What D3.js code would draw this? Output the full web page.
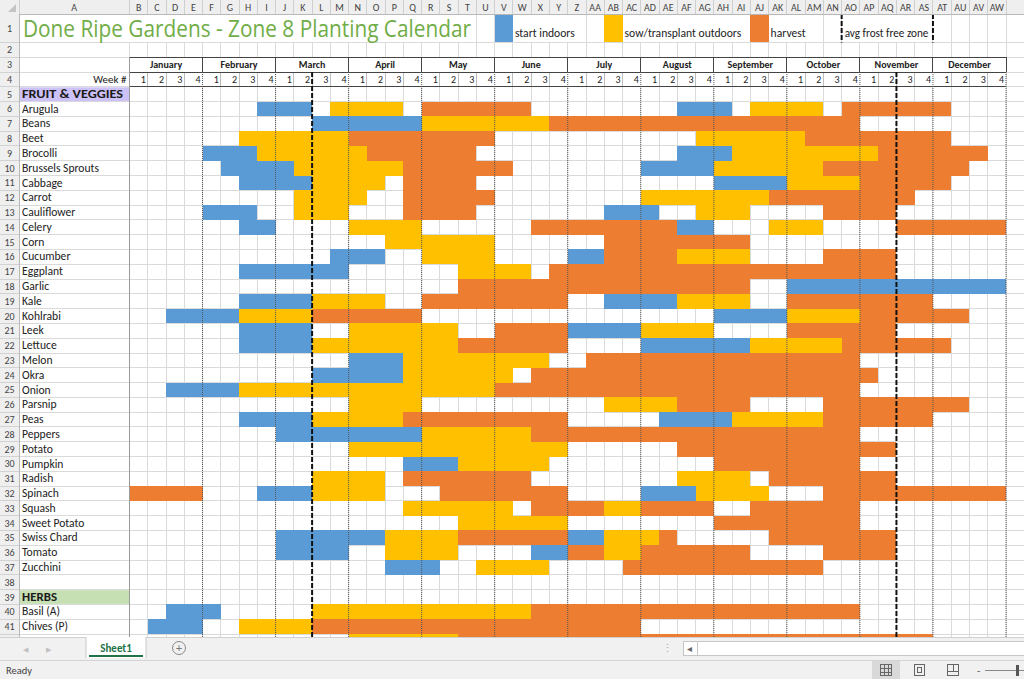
<!DOCTYPE html>
<html><head><meta charset="utf-8">
<script src="https://cdn.jsdelivr.net/npm/d3@7"></script>
<style>
html,body{margin:0;padding:0;background:#fff;overflow:hidden}
svg{display:block}
text{font-family:Carlito, Lato, "Open Sans", sans-serif}
</style></head><body>
<svg id="c" width="1024" height="679"></svg>
<script>
// ---------------- DATA ----------------
const title = "Done Ripe Gardens - Zone 8 Planting Calendar";
const months = ["January","February","March","April","May","June","July","August","September","October","November","December"];
const weekLabels = ["1","2","3","4"];
const colLetters = ["A","B","C","D","E","F","G","H","I","J","K","L","M","N","O","P","Q","R","S","T","U","V","W","X","Y","Z",
  "AA","AB","AC","AD","AE","AF","AG","AH","AI","AJ","AK","AL","AM","AN","AO","AP","AQ","AR","AS","AT","AU","AV","AW"];
const legendLabels = ["start indoors","sow/transplant outdoors","harvest","avg frost free zone"];
const sectionLabels = ["FRUIT & VEGGIES","HERBS"];
const vegCrops = ["Arugula","Beans","Beet","Brocolli","Brussels Sprouts","Cabbage","Carrot","Cauliflower","Celery","Corn",
  "Cucumber","Eggplant","Garlic","Kale","Kohlrabi","Leek","Lettuce","Melon","Okra","Onion","Parsnip","Peas","Peppers",
  "Potato","Pumpkin","Radish","Spinach","Squash","Sweet Potato","Swiss Chard","Tomato","Zucchini"];
const herbCrops = ["Basil (A)","Chives (P)",""];
// frost-free zone boundaries (week index where the dashed line sits)
const frostWeeks = [10, 42];
// week ranges (0-based week index of the year, inclusive), one entry per crop (veg then herbs)
const startIndoors = [
 [[7,9],[30,32]], [[10,15]], [], [[4,6],[30,32]], [[5,8],[28,31]], [[6,9],[32,35]], [], [[4,6],[26,28]],
 [[6,7],[30,31]], [], [[11,13],[24,25]], [[6,11]], [[36,47]], [[6,9],[26,29]], [[2,5],[32,35]], [[6,9],[24,27]],
 [[6,9],[28,33]], [[12,14]], [[10,14]], [[2,5]], [], [[6,9],[29,32]], [[8,15]], [], [[15,17]], [], [[7,9],[28,30]],
 [], [], [[8,13],[24,25]], [[8,11],[22,23]], [[14,16]],
 [[2,4]], [[1,3]], []
];
const sowOutdoors = [
 [[11,14],[34,37]], [[16,22]], [[6,11],[31,36]], [[7,12],[33,40]], [[9,14],[32,37]], [[10,13],[36,39]],
 [[9,12],[28,34]], [[9,11],[31,33]], [[12,15],[35,37]], [[14,19]], [[16,19],[30,33]], [[18,21]], [],
 [[10,13],[30,33]], [[6,9],[36,39]], [[12,17],[28,31]], [[10,17],[34,38]], [[15,22]], [[15,20]], [[6,19]],
 [[12,15],[26,29]], [[10,14],[33,37]], [[16,21]], [[12,23]], [[18,22]], [[10,13],[30,33]], [[10,13],[31,34]],
 [[15,20],[26,27]], [[18,23]], [[14,17],[26,28]], [[14,17],[26,27]], [[19,22]],
 [[10,21]], [[6,9]], [[12,17]]
];
const harvest = [
 [[16,21],[39,44]], [[23,39]], [[12,19],[37,44]], [[13,18],[41,46]], [[15,20],[38,45]], [[15,18],[40,44]],
 [[15,19],[35,42]], [[15,18],[38,41]], [[22,29],[42,47]], [[26,33]], [[26,29],[38,41]], [[23,41]], [[18,33]],
 [[16,23],[36,43]], [[10,15],[40,45]], [[20,23],[36,41]], [[18,23],[39,44]], [[25,39]], [[22,40]], [[20,39]],
 [[30,33],[38,45]], [[15,23],[38,43]], [[22,39]], [[30,41]], [[32,39]], [[15,21],[35,41]], [[0,3],[17,23],[38,47]],
 [[22,25],[28,31],[34,39]], [[32,39]], [[18,23],[29,29],[35,41]], [[24,25],[28,33],[38,41]], [[27,37]],
 [[22,39]], [[10,27]], [[18,43]]
];
const seriesColors = ["#5b9bd5","#ffc000","#ed7d31"];

// ---------------- LAYOUT ----------------
const svg = d3.select("#c");
const W = 1024, H = 679;
const GRID_BOTTOM = 637;
const colAL = 19, colAR = 129.5;
const x = d3.scaleLinear().domain([0,48]).range([129.5, 1006]);   // week index -> x
const y = d3.scaleLinear().domain([6,42]).range([101.6, 634.0]);   // spreadsheet row -> top y
const RH = y(7) - y(6);
const CW = x(1) - x(0);
const rowTop = r => r === 1 ? 14 : y(r);
const rowBot = r => r === 1 ? y(2) : y(r+1);

svg.append("rect").attr("width",W).attr("height",H).attr("fill","#fff");

svg.append("clipPath").attr("id","gc").append("rect")
  .attr("x",0).attr("y",14).attr("width",W).attr("height",GRID_BOTTOM-14);
const grid = svg.append("g").attr("clip-path","url(#gc)");

const gText = svg.append("g");

// title
const tTitle = gText.append("text").text(title)
  .attr("x",23).attr("y",37).attr("fill","#70ad47")
  .style("font-family","'Open Sans', Lato, sans-serif").style("font-size","23px")
  .attr("textLength",448).attr("lengthAdjust","spacingAndGlyphs");

// legend
const legendCols = [20, 26, 34];
const legendTexts = [];
legendCols.forEach((k,i)=>{
  legendTexts.push(gText.append("text").text(legendLabels[i]).attr("x",x(k+1)+2).attr("y",37)
    .attr("fill","#222").style("font-size","11.6px"));
});
legendTexts.push(gText.append("text").text(legendLabels[3]).attr("x",x(39)+3).attr("y",37)
    .attr("fill","#222").style("font-size","11.2px"));

const boxes = [tTitle, ...legendTexts].map(t=>{const b=t.node().getBBox(); return [b.x-1, b.x+b.width+1];});

// ---- gridlines
const gl = grid.append("g").attr("stroke","#dadada").attr("stroke-width",1).attr("shape-rendering","crispEdges");
for (let k=0;k<=50;k++){
  const xx = x(k);
  const hidden = boxes.some(([a,b])=>xx>a && xx<b);
  gl.append("line").attr("x1",xx).attr("x2",xx).attr("y1",hidden? y(2): 14).attr("y2",GRID_BOTTOM);
}
gl.append("line").attr("x1",colAL).attr("x2",colAL).attr("y1",14).attr("y2",GRID_BOTTOM).attr("stroke","#c8c8c8");
for (let r=2;r<=43;r++){
  gl.append("line").attr("x1",colAL).attr("x2",W).attr("y1",y(r)).attr("y2",y(r));
}

// ---- section header fills
grid.append("rect").attr("x",colAL+0.5).attr("y",y(5)+0.5).attr("width",colAR-colAL-1).attr("height",RH-1).attr("fill","#cdc2f7");
grid.append("rect").attr("x",colAL+0.5).attr("y",y(39)+0.5).attr("width",colAR-colAL-1).attr("height",RH-1).attr("fill","#c6e0b4");

// ---- legend boxes
legendCols.forEach((k,i)=>{
  grid.append("rect").attr("x",x(k)).attr("y",14.5).attr("width",CW).attr("height",y(2)-14.5)
    .attr("fill",seriesColors[i]).attr("shape-rendering","crispEdges");
});
[39,44].forEach(k=>{
  grid.append("line").attr("x1",x(k)).attr("x2",x(k)).attr("y1",14).attr("y2",y(2))
   .attr("stroke","#111").attr("stroke-width",2).attr("stroke-dasharray","5,2");
});

// ---- data fills
const allCrops = vegCrops.concat(herbCrops);
const cropRow = i => i < vegCrops.length ? 6+i : 40+(i-vegCrops.length);
const series = [startIndoors, sowOutdoors, harvest];
const cells = [];
series.forEach((s,si)=>{
  s.forEach((ranges,ci)=>{
    ranges.forEach(([a,b])=>cells.push({row:cropRow(ci),a,b,si}));
  });
});
grid.append("g").selectAll("rect").data(cells).join("rect")
  .attr("x",d=>x(d.a)).attr("width",d=>x(d.b+1)-x(d.a))
  .attr("y",d=>y(d.row)).attr("height",RH)
  .attr("fill",d=>seriesColors[d.si]).attr("shape-rendering","crispEdges");

// ---- header block rows 3-4
const hb = grid.append("g").attr("shape-rendering","crispEdges");
hb.append("rect").attr("x",x(0)).attr("y",y(3)).attr("width",x(48)-x(0)).attr("height",y(5)-y(3)).attr("fill","#fff");
for (let k=1;k<48;k++){
  if (k%4===0) continue;
  hb.append("line").attr("x1",x(k)).attr("x2",x(k)).attr("y1",y(4)).attr("y2",y(5)).attr("stroke","#bdbdbd");
}
[y(3), y(4), y(5)].forEach((yy,i)=>{
  hb.append("line").attr("x1",x(0)).attr("x2",x(48)).attr("y1",yy).attr("y2",yy)
    .attr("stroke", "#444").attr("stroke-width", i===1?1:1.2);
});
for (let m=0;m<=12;m++){
  hb.append("line").attr("x1",x(m*4)).attr("x2",x(m*4)).attr("y1",y(3)).attr("y2",y(4)).attr("stroke","#444");
}
months.forEach((m,i)=>{
  gText.append("text").text(m).attr("x",x(i*4+2)).attr("y",y(3)+11).attr("text-anchor","middle")
   .attr("fill","#222").style("font-size","10px").style("font-weight","bold");
});
for (let k=0;k<48;k++){
  gText.append("text").text(weekLabels[k%4]).attr("x",x(k+1)-2).attr("y",y(4)+11).attr("text-anchor","end")
   .attr("fill","#222").style("font-size","10px");
}
gText.append("text").text("Week #").attr("x",colAR-3).attr("y",y(4)+11).attr("text-anchor","end")
   .attr("fill","#222").style("font-size","11px");

// ---- month dotted separators
const ml = grid.append("g").attr("stroke","#555").attr("stroke-width",1).attr("stroke-dasharray","1,1");
for (let m=1;m<=12;m++){
  ml.append("line").attr("x1",x(m*4)).attr("x2",x(m*4)).attr("y1",y(4)).attr("y2",GRID_BOTTOM);
}
grid.append("line").attr("x1",colAR).attr("x2",colAR).attr("y1",y(3)).attr("y2",GRID_BOTTOM)
  .attr("stroke","#9a9a9a").attr("shape-rendering","crispEdges");

// ---- frost lines
frostWeeks.forEach(k=>{
  grid.append("line").attr("x1",x(k)).attr("x2",x(k)).attr("y1",y(4)).attr("y2",GRID_BOTTOM)
   .attr("stroke","#111").attr("stroke-width",2).attr("stroke-dasharray","5,2");
});

// ---- row labels
gText.append("text").text(sectionLabels[0]).attr("x",colAL+3).attr("y",y(5)+11)
  .attr("fill","#1a1a1a").style("font-size","11.5px").style("font-weight","bold")
  .attr("textLength",101).attr("lengthAdjust","spacingAndGlyphs");
gText.append("text").text(sectionLabels[1]).attr("x",colAL+3).attr("y",y(39)+11)
  .attr("fill","#1a1a1a").style("font-size","11.5px").style("font-weight","bold")
  .attr("textLength",35).attr("lengthAdjust","spacingAndGlyphs");
allCrops.forEach((c,i)=>{
  if (!c) return;
  gText.append("text").text(c).attr("x",colAL+3).attr("y",y(cropRow(i))+11)
   .attr("fill","#222").style("font-size","11.6px");
});
gText.raise();

// ---------------- EXCEL CHROME ----------------
const ch = svg.append("g");
ch.append("rect").attr("x",0).attr("y",0).attr("width",W).attr("height",14).attr("fill","#efefef");
ch.append("line").attr("x1",0).attr("x2",W).attr("y1",14).attr("y2",14).attr("stroke","#b8b8b8").attr("shape-rendering","crispEdges");
ch.append("line").attr("x1",colAL).attr("x2",colAL).attr("y1",0).attr("y2",14).attr("stroke","#cfcfcf").attr("shape-rendering","crispEdges");
for (let k=0;k<=49;k++){
  ch.append("line").attr("x1",x(k)).attr("x2",x(k)).attr("y1",0).attr("y2",14).attr("stroke","#cfcfcf").attr("shape-rendering","crispEdges");
}
colLetters.forEach((L,i)=>{
  const cx = i===0 ? (colAL+colAR)/2 : x(i-1)+CW/2;
  ch.append("text").text(L).attr("x",cx).attr("y",10.5).attr("text-anchor","middle")
    .attr("fill","#444").style("font-size","10px");
});
ch.append("path").attr("d","M16,4 L16,12 L8,12 Z").attr("fill","#c4c4c4");
const rh = svg.append("g").attr("clip-path","url(#gc)");
rh.append("rect").attr("x",0).attr("y",14).attr("width",colAL).attr("height",GRID_BOTTOM-14).attr("fill","#efefef");
rh.append("line").attr("x1",colAL).attr("x2",colAL).attr("y1",14).attr("y2",GRID_BOTTOM).attr("stroke","#b8b8b8").attr("shape-rendering","crispEdges");
d3.range(1,43).forEach(r=>{
  rh.append("line").attr("x1",0).attr("x2",colAL).attr("y1",rowBot(r)).attr("y2",rowBot(r)).attr("stroke","#d2d2d2").attr("shape-rendering","crispEdges");
  rh.append("text").text(r).attr("x",colAL/2).attr("y",(rowTop(r)+rowBot(r))/2+3.5).attr("text-anchor","middle")
    .attr("fill","#444").style("font-size","10px");
});

// tab bar
ch.append("rect").attr("x",0).attr("y",GRID_BOTTOM).attr("width",W).attr("height",23).attr("fill","#f1f1f1");
ch.append("line").attr("x1",0).attr("x2",W).attr("y1",GRID_BOTTOM+0.5).attr("y2",GRID_BOTTOM+0.5).attr("stroke","#d0d0d0");
ch.append("text").text("◀").attr("x",23).attr("y",652).attr("fill","#c0c0c0").style("font-size","7px");
ch.append("text").text("▶").attr("x",46).attr("y",652).attr("fill","#c0c0c0").style("font-size","7px");
ch.append("rect").attr("x",86).attr("y",GRID_BOTTOM).attr("width",60).attr("height",21).attr("fill","#fff");
ch.append("line").attr("x1",86).attr("x2",86).attr("y1",GRID_BOTTOM).attr("y2",658).attr("stroke","#c8c8c8");
ch.append("line").attr("x1",146).attr("x2",146).attr("y1",GRID_BOTTOM).attr("y2",658).attr("stroke","#c8c8c8");
ch.append("text").text("Sheet1").attr("x",116).attr("y",652).attr("text-anchor","middle").attr("fill","#217346")
  .style("font-size","11px").style("font-weight","bold");
ch.append("line").attr("x1",89).attr("x2",143).attr("y1",656).attr("y2",656).attr("stroke","#217346").attr("stroke-width",2);
ch.append("circle").attr("cx",179).attr("cy",648).attr("r",6.5).attr("fill","none").attr("stroke","#888");
ch.append("text").text("+").attr("x",179).attr("y",652).attr("text-anchor","middle").attr("fill","#777").style("font-size","12px");
ch.append("text").text("⋮").attr("x",667).attr("y",652).attr("text-anchor","middle").attr("fill","#aaa").style("font-size","11px");
ch.append("rect").attr("x",683.5).attr("y",641.5).attr("width",345).attr("height",14).attr("fill","#fff").attr("stroke","#c6c6c6");
ch.append("text").text("◂").attr("x",689).attr("y",652).attr("text-anchor","middle").attr("fill","#666").style("font-size","10px");
ch.append("line").attr("x1",697.5).attr("x2",697.5).attr("y1",642).attr("y2",655).attr("stroke","#c6c6c6");
// status bar
ch.append("rect").attr("x",0).attr("y",660).attr("width",W).attr("height",19).attr("fill","#f1f1f1");
ch.append("line").attr("x1",0).attr("x2",W).attr("y1",660.5).attr("y2",660.5).attr("stroke","#d4d4d4");
ch.append("text").text("Ready").attr("x",6).attr("y",674).attr("fill","#444").style("font-size","10.5px");
ch.append("rect").attr("x",872).attr("y",661).attr("width",28).attr("height",18).attr("fill","#d9d9d9");
const ic = ch.append("g").attr("stroke","#666").attr("fill","none").attr("shape-rendering","crispEdges");
ic.append("rect").attr("x",880.5).attr("y",664.5).attr("width",11).attr("height",11);
[884.5,888.5].forEach(v=>ic.append("line").attr("x1",v).attr("x2",v).attr("y1",664.5).attr("y2",675.5));
[668.5,672.5].forEach(v=>ic.append("line").attr("x1",880.5).attr("x2",891.5).attr("y1",v).attr("y2",v));
ic.append("rect").attr("x",914.5).attr("y",664.5).attr("width",10).attr("height",11);
ic.append("rect").attr("x",917.5).attr("y",667.5).attr("width",4).attr("height",5);
ic.append("rect").attr("x",947.5).attr("y",664.5).attr("width",11).attr("height",11);
ic.append("line").attr("x1",947.5).attr("x2",958.5).attr("y1",671.5).attr("y2",671.5);
ic.append("line").attr("x1",953.5).attr("x2",953.5).attr("y1",664.5).attr("y2",671.5);
ch.append("text").text("-").attr("x",977).attr("y",674).attr("fill","#555").style("font-size","11px");
ch.append("line").attr("x1",985).attr("x2",1024).attr("y1",670.5).attr("y2",670.5).attr("stroke","#888");
ch.append("rect").attr("x",1016).attr("y",665).attr("width",3).attr("height",11).attr("fill","#555");
</script>
</body></html>
